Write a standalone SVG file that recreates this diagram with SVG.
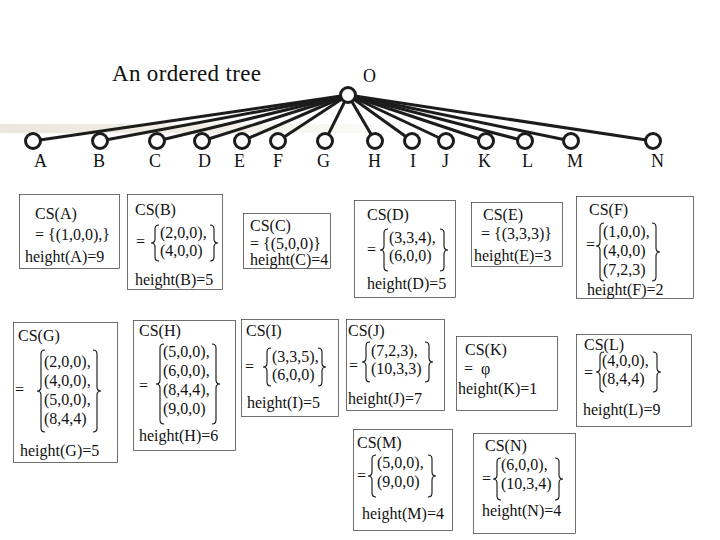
<svg xmlns="http://www.w3.org/2000/svg" width="720" height="540" viewBox="0 0 720 540">
<defs>
<linearGradient id="band" x1="0" y1="0" x2="1" y2="0">
<stop offset="0" stop-color="#ebe7dc"/>
<stop offset="0.6" stop-color="#f3f1ea"/>
<stop offset="1" stop-color="#ffffff"/>
</linearGradient>
<style>
.box{fill:none;stroke:#333;stroke-width:0.7}
.br{fill:none;stroke:#111;stroke-width:1.1}
.edge{stroke:#1c1c1c;stroke-width:3}
.nd{fill:#fff;stroke:#1c1c1c;stroke-width:3}
</style>
</defs>
<rect width="720" height="540" fill="#fff"/>
<rect x="0" y="124" width="420" height="9" fill="url(#band)"/>
<text font-family="Liberation Serif" font-size="23" fill="#111" x="112" y="81" textLength="149">An ordered tree</text>
<text font-family="Liberation Serif" font-size="18" fill="#111" x="363" y="82">O</text>
<g id="connectors">
<line class="edge" x1="348" y1="95" x2="33" y2="141"/>
<line class="edge" x1="348" y1="95" x2="100" y2="141"/>
<line class="edge" x1="348" y1="95" x2="157" y2="141"/>
<line class="edge" x1="348" y1="95" x2="202" y2="141"/>
<line class="edge" x1="348" y1="95" x2="242" y2="141"/>
<line class="edge" x1="348" y1="95" x2="278" y2="141"/>
<line class="edge" x1="348" y1="95" x2="325" y2="141"/>
<line class="edge" x1="348" y1="95" x2="375" y2="141"/>
<line class="edge" x1="348" y1="95" x2="412" y2="141"/>
<line class="edge" x1="348" y1="95" x2="446" y2="141"/>
<line class="edge" x1="348" y1="95" x2="486" y2="141"/>
<line class="edge" x1="348" y1="95" x2="525" y2="141"/>
<line class="edge" x1="348" y1="95" x2="571" y2="141"/>
<line class="edge" x1="348" y1="95" x2="653" y2="141"/>
</g>
<g id="node-O"><circle class="nd" cx="348" cy="95" r="7.5"/></g>
<g id="node-A"><circle class="nd" cx="33" cy="141" r="7.5"/><text font-family="Liberation Serif" font-size="18" fill="#111" x="34" y="167">A</text></g>
<g id="node-B"><circle class="nd" cx="100" cy="141" r="7.5"/><text font-family="Liberation Serif" font-size="18" fill="#111" x="93" y="167">B</text></g>
<g id="node-C"><circle class="nd" cx="157" cy="141" r="7.5"/><text font-family="Liberation Serif" font-size="18" fill="#111" x="149" y="167">C</text></g>
<g id="node-D"><circle class="nd" cx="202" cy="141" r="7.5"/><text font-family="Liberation Serif" font-size="18" fill="#111" x="198" y="167">D</text></g>
<g id="node-E"><circle class="nd" cx="242" cy="141" r="7.5"/><text font-family="Liberation Serif" font-size="18" fill="#111" x="234" y="167">E</text></g>
<g id="node-F"><circle class="nd" cx="278" cy="141" r="7.5"/><text font-family="Liberation Serif" font-size="18" fill="#111" x="273" y="167">F</text></g>
<g id="node-G"><circle class="nd" cx="325" cy="141" r="7.5"/><text font-family="Liberation Serif" font-size="18" fill="#111" x="317" y="167">G</text></g>
<g id="node-H"><circle class="nd" cx="375" cy="141" r="7.5"/><text font-family="Liberation Serif" font-size="18" fill="#111" x="368" y="167">H</text></g>
<g id="node-I"><circle class="nd" cx="412" cy="141" r="7.5"/><text font-family="Liberation Serif" font-size="18" fill="#111" x="410" y="167">I</text></g>
<g id="node-J"><circle class="nd" cx="446" cy="141" r="7.5"/><text font-family="Liberation Serif" font-size="18" fill="#111" x="442" y="167">J</text></g>
<g id="node-K"><circle class="nd" cx="486" cy="141" r="7.5"/><text font-family="Liberation Serif" font-size="18" fill="#111" x="478" y="167">K</text></g>
<g id="node-L"><circle class="nd" cx="525" cy="141" r="7.5"/><text font-family="Liberation Serif" font-size="18" fill="#111" x="522" y="167">L</text></g>
<g id="node-M"><circle class="nd" cx="571" cy="141" r="7.5"/><text font-family="Liberation Serif" font-size="18" fill="#111" x="567" y="167">M</text></g>
<g id="node-N"><circle class="nd" cx="653" cy="141" r="7.5"/><text font-family="Liberation Serif" font-size="18" fill="#111" x="651" y="167">N</text></g>

<g id="cs-A">
<rect class="box" x="19.5" y="194.5" width="100" height="74"/>
<text font-family="Liberation Serif" font-size="16" fill="#111" x="35" y="219">CS(A)</text>
<text font-family="Liberation Serif" font-size="16" fill="#111" x="35" y="240" xml:space="preserve">= {(1,0,0),}</text>
<text font-family="Liberation Serif" font-size="16" fill="#111" x="25" y="262">height(A)=9</text>
</g>
<g id="cs-B">
<rect class="box" x="127.5" y="194.5" width="95" height="95"/>
<text font-family="Liberation Serif" font-size="16" fill="#111" x="135" y="215">CS(B)</text>
<text font-family="Liberation Serif" font-size="16" fill="#111" x="136" y="247">=</text>
<path class="br" d="M159,225 Q155,225 155,229 L155,239 Q155,243 151,243 Q155,243 155,247 L155,257 Q155,261 159,261"/>
<text font-family="Liberation Serif" font-size="16" fill="#111" x="160" y="238">(2,0,0),</text>
<text font-family="Liberation Serif" font-size="16" fill="#111" x="160" y="256">(4,0,0)</text>
<path class="br" d="M210,225 Q214,225 214,229 L214,239 Q214,243 218,243 Q214,243 214,247 L214,257 Q214,261 210,261"/>
<text font-family="Liberation Serif" font-size="16" fill="#111" x="135" y="285">height(B)=5</text>
</g>
<g id="cs-C">
<rect class="box" x="243.5" y="213.5" width="87" height="55"/>
<text font-family="Liberation Serif" font-size="16" fill="#111" x="250" y="231">CS(C)</text>
<text font-family="Liberation Serif" font-size="16" fill="#111" x="250" y="249" xml:space="preserve">= {(5,0,0)}</text>
<text font-family="Liberation Serif" font-size="16" fill="#111" x="250" y="265">height(C)=4</text>
</g>
<g id="cs-D">
<rect class="box" x="354.5" y="200.5" width="101" height="97"/>
<text font-family="Liberation Serif" font-size="16" fill="#111" x="367" y="220">CS(D)</text>
<text font-family="Liberation Serif" font-size="16" fill="#111" x="367" y="255">=</text>
<path class="br" d="M388,229 Q384,229 384,233 L384,246 Q384,250 380,250 Q384,250 384,254 L384,267 Q384,271 388,271"/>
<text font-family="Liberation Serif" font-size="16" fill="#111" x="389" y="243">(3,3,4),</text>
<text font-family="Liberation Serif" font-size="16" fill="#111" x="389" y="261">(6,0,0)</text>
<path class="br" d="M440,229 Q444,229 444,233 L444,246 Q444,250 448,250 Q444,250 444,254 L444,267 Q444,271 440,271"/>
<text font-family="Liberation Serif" font-size="16" fill="#111" x="367" y="289">height(D)=5</text>
</g>
<g id="cs-E">
<rect class="box" x="471.5" y="202.5" width="91" height="64"/>
<text font-family="Liberation Serif" font-size="16" fill="#111" x="483" y="220">CS(E)</text>
<text font-family="Liberation Serif" font-size="16" fill="#111" x="481" y="239" xml:space="preserve">= {(3,3,3)}</text>
<text font-family="Liberation Serif" font-size="16" fill="#111" x="474" y="261">height(E)=3</text>
</g>
<g id="cs-F">
<rect class="box" x="576.5" y="196.5" width="117" height="102"/>
<text font-family="Liberation Serif" font-size="16" fill="#111" x="589" y="215">CS(F)</text>
<text font-family="Liberation Serif" font-size="16" fill="#111" x="586" y="250">=</text>
<path class="br" d="M604,223 Q600,223 600,227 L600,242 Q600,246 596,246 Q600,246 600,250 L600,277 Q600,281 604,281"/>
<text font-family="Liberation Serif" font-size="16" fill="#111" x="603" y="237">(1,0,0),</text>
<text font-family="Liberation Serif" font-size="16" fill="#111" x="603" y="256">(4,0,0)</text>
<text font-family="Liberation Serif" font-size="16" fill="#111" x="603" y="275">(7,2,3)</text>
<path class="br" d="M652,223 Q656,223 656,227 L656,248 Q656,252 660,252 Q656,252 656,256 L656,277 Q656,281 652,281"/>
<text font-family="Liberation Serif" font-size="16" fill="#111" x="587" y="295">height(F)=2</text>
</g>
<g id="cs-G">
<rect class="box" x="13.5" y="322.5" width="104" height="140"/>
<text font-family="Liberation Serif" font-size="16" fill="#111" x="18" y="341">CS(G)</text>
<text font-family="Liberation Serif" font-size="16" fill="#111" x="15" y="395">=</text>
<path class="br" d="M45,350 Q41,350 41,354 L41,387 Q41,391 37,391 Q41,391 41,395 L41,428 Q41,432 45,432"/>
<text font-family="Liberation Serif" font-size="16" fill="#111" x="44" y="367">(2,0,0),</text>
<text font-family="Liberation Serif" font-size="16" fill="#111" x="44" y="386">(4,0,0),</text>
<text font-family="Liberation Serif" font-size="16" fill="#111" x="44" y="405">(5,0,0),</text>
<text font-family="Liberation Serif" font-size="16" fill="#111" x="44" y="424">(8,4,4)</text>
<path class="br" d="M93,350 Q97,350 97,354 L97,387 Q97,391 101,391 Q97,391 97,395 L97,428 Q97,432 93,432"/>
<text font-family="Liberation Serif" font-size="16" fill="#111" x="20" y="456">height(G)=5</text>
</g>
<g id="cs-H">
<rect class="box" x="133.5" y="320.5" width="102" height="130"/>
<text font-family="Liberation Serif" font-size="16" fill="#111" x="139" y="336">CS(H)</text>
<text font-family="Liberation Serif" font-size="16" fill="#111" x="139" y="391">=</text>
<path class="br" d="M164,344 Q160,344 160,348 L160,380 Q160,384 156,384 Q160,384 160,388 L160,420 Q160,424 164,424"/>
<text font-family="Liberation Serif" font-size="16" fill="#111" x="163" y="357">(5,0,0),</text>
<text font-family="Liberation Serif" font-size="16" fill="#111" x="163" y="376">(6,0,0),</text>
<text font-family="Liberation Serif" font-size="16" fill="#111" x="163" y="395">(8,4,4),</text>
<text font-family="Liberation Serif" font-size="16" fill="#111" x="163" y="414">(9,0,0)</text>
<path class="br" d="M212,344 Q216,344 216,348 L216,380 Q216,384 220,384 Q216,384 216,388 L216,420 Q216,424 212,424"/>
<text font-family="Liberation Serif" font-size="16" fill="#111" x="139" y="441">height(H)=6</text>
</g>
<g id="cs-I">
<rect class="box" x="241.5" y="319.5" width="97" height="97"/>
<text font-family="Liberation Serif" font-size="16" fill="#111" x="246" y="336">CS(I)</text>
<text font-family="Liberation Serif" font-size="16" fill="#111" x="245" y="372">=</text>
<path class="br" d="M271,348 Q267,348 267,352 L267,363 Q267,367 263,367 Q267,367 267,371 L267,382 Q267,386 271,386"/>
<text font-family="Liberation Serif" font-size="16" fill="#111" x="272" y="362">(3,3,5),</text>
<text font-family="Liberation Serif" font-size="16" fill="#111" x="272" y="380">(6,0,0)</text>
<path class="br" d="M318,348 Q322,348 322,352 L322,363 Q322,367 326,367 Q322,367 322,371 L322,382 Q322,386 318,386"/>
<text font-family="Liberation Serif" font-size="16" fill="#111" x="247" y="408">height(I)=5</text>
</g>
<g id="cs-J">
<rect class="box" x="346.5" y="319.5" width="98" height="91"/>
<text font-family="Liberation Serif" font-size="16" fill="#111" x="348" y="336">CS(J)</text>
<text font-family="Liberation Serif" font-size="16" fill="#111" x="349" y="371">=</text>
<path class="br" d="M370,342 Q366,342 366,346 L366,358 Q366,362 362,362 Q366,362 366,366 L366,378 Q366,382 370,382"/>
<text font-family="Liberation Serif" font-size="16" fill="#111" x="371" y="356">(7,2,3),</text>
<text font-family="Liberation Serif" font-size="16" fill="#111" x="371" y="374">(10,3,3)</text>
<path class="br" d="M425,342 Q429,342 429,346 L429,358 Q429,362 433,362 Q429,362 429,366 L429,378 Q429,382 425,382"/>
<text font-family="Liberation Serif" font-size="16" fill="#111" x="348" y="404">height(J)=7</text>
</g>
<g id="cs-K">
<rect class="box" x="456.5" y="336.5" width="101" height="74"/>
<text font-family="Liberation Serif" font-size="16" fill="#111" x="465" y="355">CS(K)</text>
<text font-family="Liberation Serif" font-size="16" fill="#111" x="464" y="374">=</text>
<text font-family="Liberation Serif" font-size="16" fill="#111" x="481" y="374">φ</text>
<text font-family="Liberation Serif" font-size="16" fill="#111" x="458" y="394">height(K)=1</text>
</g>
<g id="cs-L">
<rect class="box" x="576.5" y="334.5" width="115" height="92"/>
<text font-family="Liberation Serif" font-size="16" fill="#111" x="584" y="350">CS(L)</text>
<text font-family="Liberation Serif" font-size="16" fill="#111" x="584" y="378">=</text>
<path class="br" d="M604,352 Q600,352 600,356 L600,368 Q600,372 596,372 Q600,372 600,376 L600,388 Q600,392 604,392"/>
<text font-family="Liberation Serif" font-size="16" fill="#111" x="602" y="366">(4,0,0),</text>
<text font-family="Liberation Serif" font-size="16" fill="#111" x="602" y="384">(8,4,4)</text>
<path class="br" d="M653,352 Q657,352 657,356 L657,368 Q657,372 661,372 Q657,372 657,376 L657,388 Q657,392 653,392"/>
<text font-family="Liberation Serif" font-size="16" fill="#111" x="583" y="415">height(L)=9</text>
</g>
<g id="cs-M">
<rect class="box" x="353.5" y="429.5" width="99" height="101"/>
<text font-family="Liberation Serif" font-size="16" fill="#111" x="357" y="448">CS(M)</text>
<text font-family="Liberation Serif" font-size="16" fill="#111" x="357" y="481">=</text>
<path class="br" d="M376,455 Q372,455 372,459 L372,472 Q372,476 368,476 Q372,476 372,480 L372,493 Q372,497 376,497"/>
<text font-family="Liberation Serif" font-size="16" fill="#111" x="377" y="468">(5,0,0),</text>
<text font-family="Liberation Serif" font-size="16" fill="#111" x="377" y="487">(9,0,0)</text>
<path class="br" d="M428,455 Q432,455 432,459 L432,472 Q432,476 436,476 Q432,476 432,480 L432,493 Q432,497 428,497"/>
<text font-family="Liberation Serif" font-size="16" fill="#111" x="362" y="519">height(M)=4</text>
</g>
<g id="cs-N">
<rect class="box" x="473.5" y="433.5" width="102" height="100"/>
<text font-family="Liberation Serif" font-size="16" fill="#111" x="485" y="451">CS(N)</text>
<text font-family="Liberation Serif" font-size="16" fill="#111" x="482" y="484">=</text>
<path class="br" d="M501,458 Q497,458 497,462 L497,475 Q497,479 493,479 Q497,479 497,483 L497,496 Q497,500 501,500"/>
<text font-family="Liberation Serif" font-size="16" fill="#111" x="501" y="470">(6,0,0),</text>
<text font-family="Liberation Serif" font-size="16" fill="#111" x="501" y="489">(10,3,4)</text>
<path class="br" d="M555,458 Q559,458 559,462 L559,475 Q559,479 563,479 Q559,479 559,483 L559,496 Q559,500 555,500"/>
<text font-family="Liberation Serif" font-size="16" fill="#111" x="482" y="516">height(N)=4</text>
</g>
</svg>
